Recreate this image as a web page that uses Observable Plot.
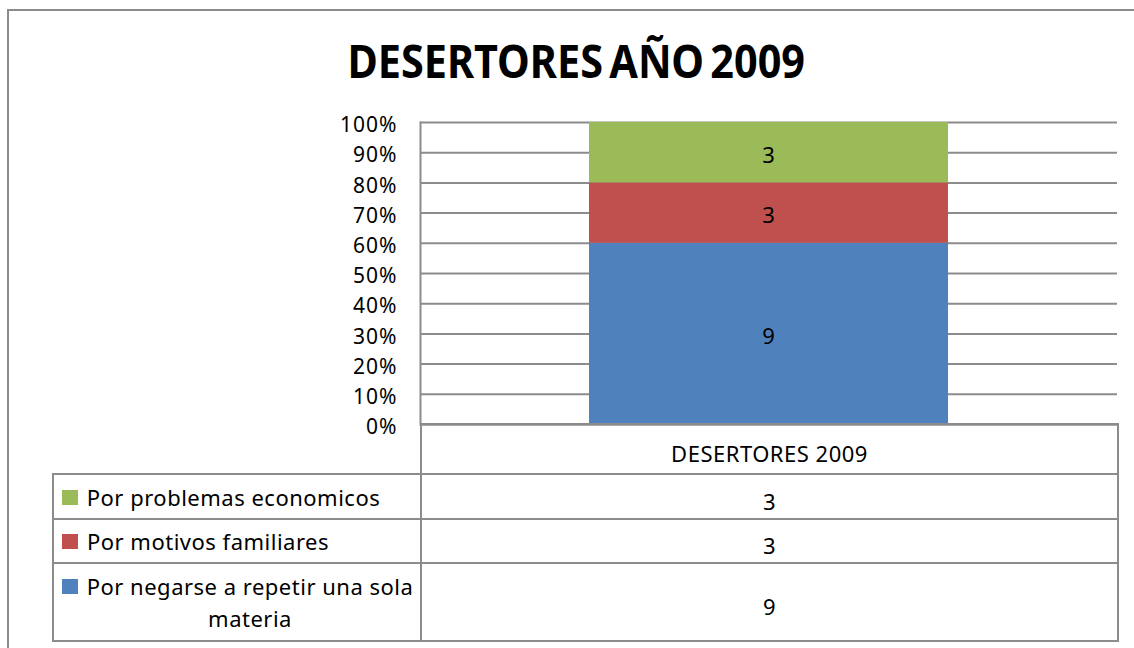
<!DOCTYPE html>
<html><head><meta charset="utf-8">
<script src="https://cdn.jsdelivr.net/npm/d3@7"></script>
<script src="https://cdn.jsdelivr.net/npm/@observablehq/plot@0.6"></script>
<style>
body{margin:0;background:#fff;font-family:"Noto Sans",sans-serif;color:#000;}
#page{position:relative;width:1134px;height:648px;overflow:hidden;background:#fff;}
#frame{position:absolute;left:7px;top:9px;width:1200px;height:700px;border-left:2px solid #8c8c8c;border-top:2px solid #8c8c8c;}
#title{position:absolute;left:0;top:37px;width:1153px;text-align:center;font-weight:bold;font-size:46px;line-height:46px;white-space:nowrap;}
#title span{display:inline-block;transform:scaleX(0.9);transform-origin:50% 50%;word-spacing:-5px;}
#chart{position:absolute;left:0;top:100px;}
#tbl{position:absolute;left:52px;top:423px;border-collapse:collapse;table-layout:fixed;font-size:22px;letter-spacing:0.5px;}
#tbl td{border:2px solid #8c8c8c;padding:0;}
#tbl td.blank{border-top:none;border-left:none;border-bottom:none;}
#tbl td.val{text-align:center;vertical-align:middle;padding-top:8px;line-height:28px;}
#tbl td.leg{vertical-align:middle;padding-left:8px;}
.legwrap{display:flex;align-items:flex-start;}
.sw{width:16px;height:15px;margin-top:9px;margin-right:8px;flex:none;}
.lbl{text-align:center;line-height:32px;max-width:334px;}
</style>
</head><body>
<div id="page">
<div id="frame"></div>
<div id="title"><span></span></div>
<div id="chart"></div>
<table id="tbl"><colgroup><col style="width:368px"><col style="width:697px"></colgroup><tbody></tbody></table>
</div>
<script>
const chartTitle = "DESERTORES AÑO 2009";
const seriesName = "DESERTORES 2009";
const categories = ["Por negarse a repetir una sola materia", "Por motivos familiares", "Por problemas economicos"];
const values = [9, 3, 3];
const colors = ["#4F81BD", "#C0504D", "#9BBB59"];
const yTickValues = [0, 0.1, 0.2, 0.3, 0.4, 0.5, 0.6, 0.7, 0.8, 0.9, 1];

document.querySelector("#title span").textContent = chartTitle;

const data = categories.map((c, i) => ({series: seriesName, cat: c, value: values[i]}));
const gray = "#8c8c8c";

const chart = Plot.plot({
  width: 1134,
  height: 330,
  marginLeft: 420,
  marginRight: 17,
  marginTop: 22,
  marginBottom: 6,
  style: {fontFamily: "Noto Sans, sans-serif", fontSize: "21px", color: "#000", background: "transparent", overflow: "visible", letterSpacing: "1px"},
  x: {domain: [seriesName], padding: 0.32, axis: null},
  y: {domain: [0, 1], axis: null},
  color: {domain: categories, range: colors},
  marks: [
    Plot.ruleY(yTickValues, {stroke: gray, strokeWidth: 2}),
    Plot.barY(data, Plot.stackY({offset: "normalize", x: "series", y: "value", fill: "cat"})),
    Plot.text(data, Plot.stackY({offset: "normalize", x: "series", y: "value", text: d => String(d.value), fill: "#000", fontSize: 22, dy: 3})),
    Plot.ruleY([0], {stroke: gray, strokeWidth: 2}),
    Plot.axisY({ticks: yTickValues, tickFormat: d3.format(".0%"), tickSize: 0, tickPadding: 23, fontSize: 21, dy: 3, label: null}),
    Plot.frame({anchor: "left", stroke: gray, strokeWidth: 2})
  ]
});
document.getElementById("chart").appendChild(chart);

const tbody = document.querySelector("#tbl tbody");
const head = document.createElement("tr");
head.style.height = "50px";
head.innerHTML = `<td class="blank"></td><td class="val">${seriesName}</td>`;
tbody.appendChild(head);
const rowHeights = [45, 44, 78];
[2, 1, 0].forEach((i, k) => {
  const tr = document.createElement("tr");
  tr.style.height = rowHeights[k] + "px";
  const td1 = document.createElement("td");
  td1.className = "leg";
  td1.innerHTML = `<div class="legwrap"><span class="sw" style="background:${colors[i]}"></span><span class="lbl">${categories[i]}</span></div>`;
  const td2 = document.createElement("td");
  td2.className = "val";
  td2.textContent = values[i];
  tr.appendChild(td1); tr.appendChild(td2);
  tbody.appendChild(tr);
});
// shrink wrapped legend labels to their longest line so the block sits next to its swatch
document.querySelectorAll(".lbl").forEach(el => {
  const r = document.createRange();
  r.selectNodeContents(el);
  const w = Math.max(...Array.from(r.getClientRects()).map(q => q.width));
  el.style.width = Math.ceil(w + 1) + "px";
});
</script>
</body></html>
